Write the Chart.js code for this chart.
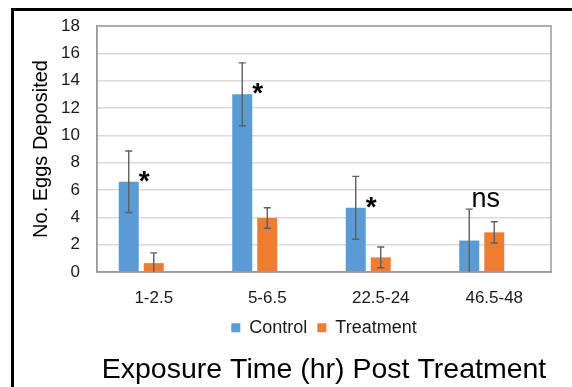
<!DOCTYPE html>
<html>
<head>
<meta charset="utf-8">
<script src="https://cdn.jsdelivr.net/npm/chart.js@4/dist/chart.umd.min.js"></script>
<style>
  html, body { margin: 0; padding: 0; background: #ffffff; }
  #wrap { width: 572px; height: 387px; position: relative; }
</style>
</head>
<body>
<div id="wrap"><canvas id="c" width="572" height="387"></canvas></div>
<script>
// ---- data ----
const categories = ['1-2.5', '5-6.5', '22.5-24', '46.5-48'];
const controlValues = [6.6, 13.0, 4.7, 2.3];
const controlErrors = [2.25, 2.3, 2.3, 2.3];
const treatmentValues = [0.65, 3.95, 1.07, 2.9];
const treatmentErrors = [0.75, 0.75, 0.76, 0.78];
const significance = ['*', '*', '*', 'ns'];
const yMin = 0, yMax = 18, yStep = 2;
const seriesNames = ['Control', 'Treatment'];
const yTitle = 'No. Eggs Deposited';
const xTitle = 'Exposure Time (hr) Post Treatment';

const FONT = "'Liberation Sans', Arial, sans-serif";

const frameAndBorder = {
  id: 'frameAndBorder',
  beforeDraw(chart) {
    const ctx = chart.ctx;
    ctx.save();
    ctx.fillStyle = '#ffffff';
    ctx.fillRect(0, 0, chart.width, chart.height);
    ctx.fillStyle = '#000000';
    ctx.fillRect(11, 8, 3, chart.height - 8);
    ctx.fillRect(11, 8, chart.width - 11, 3);
    ctx.restore();
  },
  afterDatasetsDraw(chart) {
    const ctx = chart.ctx;
    const a = chart.chartArea;
    ctx.save();
    ctx.strokeStyle = '#9a9a9a';
    ctx.lineWidth = 1.5;
    ctx.strokeRect(a.left, a.top, a.right - a.left, a.bottom - a.top);
    ctx.restore();
  }
};

const errorBars = {
  id: 'errorBars',
  afterDatasetsDraw(chart) {
    const ctx = chart.ctx;
    const y = chart.scales.y;
    const errs = [controlErrors, treatmentErrors];
    const vals = [controlValues, treatmentValues];
    ctx.save();
    ctx.strokeStyle = '#5f5f5f';
    ctx.lineWidth = 1.4;
    for (let d = 0; d < 2; d++) {
      const meta = chart.getDatasetMeta(d);
      meta.data.forEach((bar, i) => {
        const v = vals[d][i], e = errs[d][i];
        const top = y.getPixelForValue(v + e);
        const bot = y.getPixelForValue(Math.max(yMin, v - e));
        const x = bar.x;
        ctx.beginPath();
        ctx.moveTo(x, top); ctx.lineTo(x, bot);
        ctx.moveTo(x - 3.5, top); ctx.lineTo(x + 3.5, top);
        if (v - e > yMin) { ctx.moveTo(x - 3.5, bot); ctx.lineTo(x + 3.5, bot); }
        ctx.stroke();
      });
    }
    const meta0 = chart.getDatasetMeta(0);
    const meta1 = chart.getDatasetMeta(1);
    significance.forEach((s, i) => {
      const bar = meta0.data[i];
      ctx.fillStyle = '#000000';
      ctx.textAlign = 'center';
      ctx.textBaseline = 'alphabetic';
      if (s === '*') {
        const size = 28;
        ctx.font = 'bold ' + size + 'px ' + FONT;
        const cx = bar.x + bar.width / 2 + 5.5;
        const cy = bar.y - 8.5;
        ctx.fillText(s, cx, cy + 0.58 * size);
      } else {
        const size = 27;
        ctx.font = size + 'px ' + FONT;
        const gx = (bar.x + meta1.data[i].x) / 2 + 4;
        const topY = y.getPixelForValue(controlValues[i] + controlErrors[i]);
        ctx.fillText(s, gx, topY - 2);
      }
    });
    ctx.restore();
  }
};

new Chart(document.getElementById('c'), {
  type: 'bar',
  data: {
    labels: categories,
    datasets: [
      { label: seriesNames[0], data: controlValues, backgroundColor: '#5b9bd5', borderWidth: 0,
        categoryPercentage: 0.661, barPercentage: 0.8 },
      { label: seriesNames[1], data: treatmentValues, backgroundColor: '#ed7d31', borderWidth: 0,
        categoryPercentage: 0.661, barPercentage: 0.8 },
      // empty third slot (as in the original Excel layout, bars sit left of the category centre)
      { label: '', data: categories.map(() => null), backgroundColor: 'rgba(0,0,0,0)', borderWidth: 0,
        categoryPercentage: 0.661, barPercentage: 0.8 }
    ]
  },
  options: {
    responsive: false,
    animation: false,
    devicePixelRatio: 1,
    layout: { padding: { left: 14, right: 21, top: 26, bottom: 0 } },
    plugins: {
      legend: {
        position: 'bottom',
        fullSize: false,
        labels: {
          font: { family: FONT, size: 18 },
          color: '#1a1a1a',
          boxWidth: 9,
          boxHeight: 9,
          padding: 10,
          filter: (item) => item.text !== ''
        }
      },
      title: {
        display: true,
        position: 'bottom',
        fullSize: false,
        text: xTitle,
        color: '#000000',
        font: { family: FONT, size: 28.5, weight: 'normal' },
        padding: { top: 6, bottom: 0 }
      },
      tooltip: { enabled: false }
    },
    scales: {
      x: {
        afterFit(scale) { scale.height = 36.8; },
        grid: { display: false, drawTicks: false },
        border: { display: true, color: '#9a9a9a', width: 1.5 },
        ticks: {
          font: { family: FONT, size: 17 },
          color: '#1a1a1a',
          padding: 16,
          labelOffset: 0,
          maxRotation: 0
        }
      },
      y: {
        min: yMin,
        max: yMax,
        afterFit(scale) { scale.width = 83; scale.paddingTop = 0; scale.paddingBottom = 0; },
        grid: { color: '#dadada', lineWidth: 1.5, drawTicks: false },
        border: { display: true, color: '#9a9a9a', width: 1.5 },
        ticks: {
          stepSize: yStep,
          font: { family: FONT, size: 17 },
          color: '#1a1a1a',
          padding: 17
        },
        title: {
          display: true,
          text: yTitle,
          color: '#000000',
          font: { family: FONT, size: 20 },
          padding: { top: 15, bottom: 0 }
        }
      }
    }
  },
  plugins: [frameAndBorder, errorBars]
});
</script>
</body>
</html>
